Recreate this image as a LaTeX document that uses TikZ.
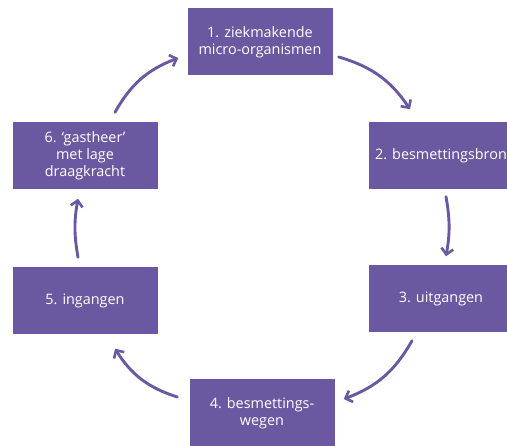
\documentclass[tikz,border=0pt]{standalone}
\usepackage{fontspec}
\setmainfont{Open Sans}
\usetikzlibrary{arrows.meta}
\definecolor{paars}{RGB}{106,89,161}

\begin{document}
\begin{tikzpicture}[x=1pt, y=1pt]
        \tikzstyle{box}=[fill=paars, draw=none, shape=rectangle, minimum width=145pt, minimum height=67pt, text=white, align=center, font=\fontsize{14.4}{17}\selectfont, inner sep=0pt]
        \tikzstyle{arrow}=[-{Straight Barb[length=6pt, width=12pt, line width=2.6pt]}, line width=2.9pt, draw=paars, line cap=round]
        %\tikzstyle{arrow}=[->, thick]
        \useasboundingbox (0,0) rectangle (507,-446);
        \clip (0,0) rectangle (507,-446);

        \node [style=box] (1) at (260, -42) {1. ziekmakende\\micro-organismen};
        \node [style=box] (2) at (441, -156) {2. besmettingsbron};
        \node [style=box] (3) at (441, -299) {3. uitgangen};
        \node [style=box] (4) at (262, -413) {4. besmettings-\\wegen};
        \node [style=box] (5) at (85, -301) {5. ingangen};
        \node [style=box] (6) at (85, -156) {6. `gastheer'\\met lage\\draagkracht};

        \draw [bend left=20, style=arrow] ([shift={(6,-15)}]1.east) to ([shift={(-31,13)}]2.north);
        \draw [bend left=10, style=arrow] ([shift={(5,-7)}]2.south) to ([shift={(5,9)}]3.north);
        \draw [bend left=20, style=arrow] ([shift={(-29,-8)}]3.south) to ([shift={(9,14)}]4.east);
        \draw [bend left=20, style=arrow] ([shift={(-12,16)}]4.west) to ([shift={(30,-14)}]5.south);
        \draw [bend left=10, style=arrow] ([shift={(-7,10)}]5.north) to ([shift={(-7,-9)}]6.south);
        \draw [bend left=20, style=arrow] ([shift={(30,10)}]6.north) to ([shift={(-9,-16)}]1.west);
    \end{tikzpicture}
\end{document}
